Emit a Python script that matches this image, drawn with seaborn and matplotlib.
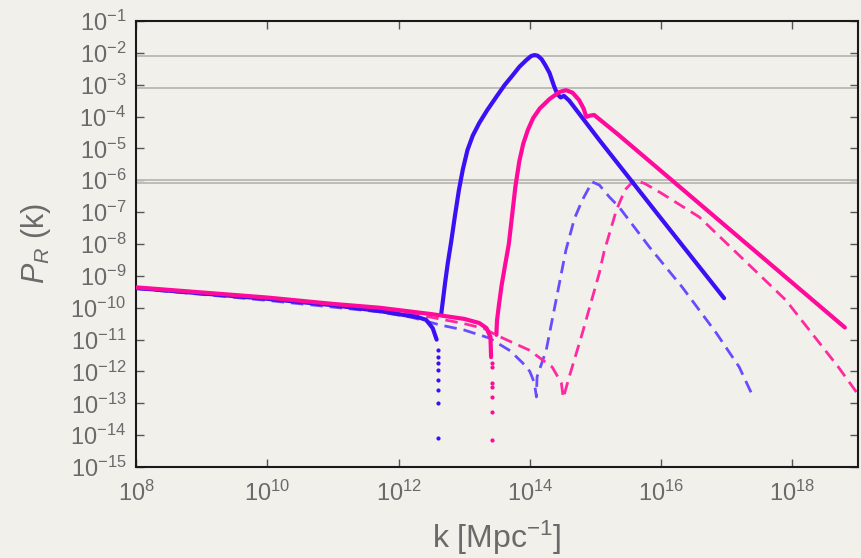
import numpy as np
import pandas as pd
import matplotlib
matplotlib.use('Agg')
import matplotlib.pyplot as plt
from matplotlib.ticker import LogFormatterSciNotation, NullLocator
import seaborn as sns

# ── values, as log10(k) / log10(P_R) ─────────────────────────────────────────
# blue solid: low-k branch, sparse dip dots, rising branch + tail
blue_low_logk = [8.0, 9.0, 10.0, 10.5, 11.0, 11.7, 12.0, 12.3, 12.42, 12.52, 12.58]
blue_low_logP = [-9.38, -9.55, -9.72, -9.82, -9.92, -10.1, -10.2, -10.3, -10.38, -10.64, -11.0]
blue_dip_logk = [12.6, 12.6, 12.6, 12.6, 12.6, 12.6, 12.6, 12.6]
blue_dip_logP = [-11.33, -11.55, -11.73, -11.95, -12.27, -12.58, -12.99, -14.09]
blue_up_logk = [12.65, 12.68, 12.71, 12.75, 12.8, 12.86, 12.92, 12.98, 13.05, 13.13, 13.23,
                13.35, 13.5, 13.62, 13.74, 13.84, 13.95, 14.02, 14.07, 14.12, 14.18, 14.24,
                14.3, 14.37, 14.42, 14.47, 14.52, 14.6, 15.06, 16.0, 16.96]
blue_up_logP = [-10.2, -9.7, -9.2, -8.6, -7.95, -7.1, -6.3, -5.65, -5.05, -4.6, -4.2,
                -3.8, -3.35, -3.0, -2.7, -2.44, -2.22, -2.1, -2.07, -2.09, -2.2, -2.4,
                -2.63, -3.05, -3.3, -3.4, -3.35, -3.5, -4.74, -7.2, -9.7]

# pink solid
pink_low_logk = [8.0, 9.0, 10.0, 11.0, 11.71, 12.5, 13.0, 13.23, 13.34, 13.40, 13.41]
pink_low_logP = [-9.36, -9.52, -9.68, -9.88, -10.0, -10.2, -10.35, -10.48, -10.64, -10.92, -11.55]
pink_dip_logk = [13.43, 13.43, 13.43, 13.43, 13.43, 13.43, 13.43]
pink_dip_logP = [-11.73, -11.86, -12.36, -12.49, -12.8, -13.27, -14.15]
pink_up_logk = [13.49, 13.5, 13.53, 13.57, 13.62, 13.68, 13.73, 13.78, 13.84, 13.9, 13.97,
                14.05, 14.15, 14.3, 14.45, 14.55, 14.65, 14.75, 14.82, 14.86, 14.92, 14.98,
                15.32, 16.2, 17.5, 18.8]
pink_up_logP = [-10.85, -10.4, -9.9, -9.3, -8.7, -8.0, -7.1, -6.2, -5.4, -4.85, -4.42,
                -4.05, -3.75, -3.45, -3.23, -3.17, -3.25, -3.48, -3.75, -4.01, -3.97, -3.95,
                -4.52, -6.06, -8.34, -10.62]

# blue dashed
bdash_logk = [8.0, 9.0, 10.0, 11.0, 11.71, 12.2, 12.63, 13.0, 13.38, 13.7, 13.89, 14.0,
              14.07, 14.1, 14.11, 14.25, 14.4, 14.55, 14.68, 14.8, 14.95, 15.06, 15.21,
              15.36, 15.82, 16.32, 16.84, 17.19, 17.41]
bdash_logP = [-9.4, -9.58, -9.77, -9.98, -10.13, -10.3, -10.54, -10.7, -10.95, -11.35, -11.73,
              -12.0, -12.36, -12.8, -12.17, -11.33, -9.76, -8.19, -7.2, -6.62, -6.05, -6.15,
              -6.52, -6.84, -8.09, -9.35, -10.79, -11.86, -12.83]

# pink dashed
pdash_logk = [8.0, 10.0, 11.71, 12.5, 13.0, 13.3, 13.49, 13.99, 14.34, 14.48, 14.51, 14.6,
              14.8, 15.06, 15.13, 15.32, 15.45, 15.59, 15.75, 16.0, 16.58, 17.9, 18.7, 19.03]
pdash_logP = [-9.38, -9.72, -10.06, -10.3, -10.5, -10.65, -10.86, -11.33, -11.86, -12.36,
              -12.83, -12.17, -10.8, -8.9, -8.25, -6.93, -6.3, -6.0, -6.1, -6.4, -7.15,
              -9.76, -11.86, -12.8]

# grey horizontal bounds
bound_levels = [-2.10, -3.10, -6.0, -6.08]

xtick_exp = [8, 10, 12, 14, 16, 18]
ytick_exp = list(range(-15, 0))

# ── style ────────────────────────────────────────────────────────────────────
sns.set_theme(style='ticks')
paper = '#f2f0eb'
grey_txt = '#6a6a6a'
plt.rcParams['font.family'] = ['Liberation Sans', 'DejaVu Sans']
plt.rcParams['mathtext.fontset'] = 'custom'
plt.rcParams['mathtext.rm'] = 'Liberation Sans'
plt.rcParams['mathtext.it'] = 'Liberation Sans:italic'
plt.rcParams['mathtext.sf'] = 'Liberation Sans'

c_blue = '#3a10f5'
c_pink = '#ff0a9a'
c_bdash = '#6a4cff'
c_pdash = '#ff2aa0'


def frame(logk, logP, seg):
    return pd.DataFrame({'k': 10.0 ** np.array(logk), 'P': 10.0 ** np.array(logP), 'seg': seg})


blue_df = pd.concat([frame(blue_low_logk, blue_low_logP, 0), frame(blue_up_logk, blue_up_logP, 1)])
pink_df = pd.concat([frame(pink_low_logk, pink_low_logP, 0), frame(pink_up_logk, pink_up_logP, 1)])
bdash_df = frame(bdash_logk, bdash_logP, 0)
pdash_df = frame(pdash_logk, pdash_logP, 0)
blue_dip = frame(blue_dip_logk, blue_dip_logP, 0)
pink_dip = frame(pink_dip_logk, pink_dip_logP, 0)

fig, ax = plt.subplots(figsize=(8.61, 5.58), dpi=100)
fig.patch.set_facecolor(paper)
ax.set_facecolor(paper)
fig.subplots_adjust(left=0.158, right=0.9965, top=0.9624, bottom=0.163)
ax.set_xscale('log')
ax.set_yscale('log')

for lv in bound_levels:
    ax.axhline(10.0 ** lv, color='#bdbcb8', lw=1.4, zorder=1)

dash = (0, (4.5, 2.5))
sns.lineplot(data=bdash_df, x='k', y='P', units='seg', estimator=None, sort=False,
             color=c_bdash, lw=2.0, linestyle=dash, ax=ax, zorder=2)
sns.lineplot(data=pdash_df, x='k', y='P', units='seg', estimator=None, sort=False,
             color=c_pdash, lw=2.0, linestyle=dash, ax=ax, zorder=2)
sns.lineplot(data=blue_df, x='k', y='P', units='seg', estimator=None, sort=False,
             color=c_blue, lw=3.0, ax=ax, zorder=3)
sns.scatterplot(data=blue_dip, x='k', y='P', color=c_blue, s=9, linewidth=0, ax=ax, zorder=3)
sns.lineplot(data=pink_df, x='k', y='P', units='seg', estimator=None, sort=False,
             color=c_pink, lw=3.0, ax=ax, zorder=4)
sns.scatterplot(data=pink_dip, x='k', y='P', color=c_pink, s=9, linewidth=0, ax=ax, zorder=4)

ax.set_xlim(1e8, 1e19)
ax.set_ylim(1e-15, 1e-1)
ax.set_xticks([10.0 ** e for e in xtick_exp])
ax.set_yticks([10.0 ** e for e in ytick_exp])
ax.xaxis.set_minor_locator(NullLocator())
ax.yaxis.set_minor_locator(NullLocator())
ax.xaxis.set_major_formatter(LogFormatterSciNotation())
ax.yaxis.set_major_formatter(LogFormatterSciNotation())

ax.tick_params(which='major', direction='in', length=6, width=1.0, color='#555555',
               top=True, right=True, labelsize=17, labelcolor=grey_txt)
ax.tick_params(axis='x', pad=10)
ax.tick_params(axis='y', pad=7)
for sp in ax.spines.values():
    sp.set_color('#1a1a1a')
    sp.set_linewidth(1.5)

ax.set_xlabel('k [Mpc$^{-1}$]', fontsize=23, color=grey_txt)
ax.set_ylabel('$P_R$ (k)', fontsize=22, color=grey_txt)
ax.xaxis.set_label_coords(0.5, -0.115)
ax.yaxis.set_label_coords(-0.115, 0.5)

fig.savefig('out.png', dpi=100, facecolor=paper)
